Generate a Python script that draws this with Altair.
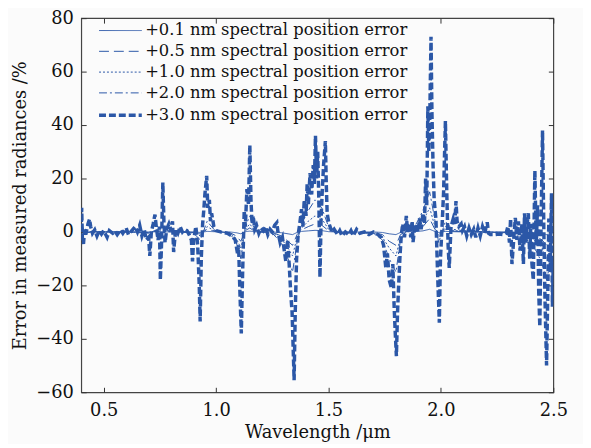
import altair as alt
import pandas as pd

# ---------------- data ----------------
series_names = [
    "+0.1 nm spectral position error",
    "+0.5 nm spectral position error",
    "+1.0 nm spectral position error",
    "+2.0 nm spectral position error",
    "+3.0 nm spectral position error",
]

# shared wavelength grid for the four smaller-error curves (µm)
grid_wl = [0.40, 0.42, 0.45, 0.50, 0.60, 0.70, 0.74, 0.76, 0.78, 0.85,
           0.90, 0.93, 0.96, 0.99, 1.02, 1.06, 1.09, 1.11, 1.13, 1.15,
           1.17, 1.20, 1.25, 1.29, 1.32, 1.34, 1.36, 1.38, 1.41, 1.44,
           1.47, 1.50, 1.53, 1.60, 1.70, 1.74, 1.77, 1.80, 1.82, 1.85,
           1.89, 1.92, 1.95, 1.97, 1.99, 2.02, 2.05, 2.10, 2.20, 2.30,
           2.36, 2.40, 2.43, 2.45, 2.47, 2.49, 2.50]

err_01 = [0.2, -0.1, 0, 0, 0, 0, 0.1, -0.1, 0, 0,
          0, -0.2, 0.2, 0.1, 0, 0, -0.3, -0.7, 0.1, 0.3,
          0.1, 0, 0, -0.3, -0.7, -1, -0.2, 0.2, 0.4, 0.6,
          0.5, 0.1, 0, 0, 0, -0.2, -0.7, -1, -0.2, 0.1,
          0.2, 0.4, 1, 0.3, -0.2, 0.2, 0.1, 0, 0, 0,
          -0.1, -0.2, -0.4, -0.6, -1, -0.6, -0.3]

err_05 = [0.8, -0.3, 0.1, 0, 0, -0.2, 0.3, -0.3, 0.1, 0,
          -0.2, -0.8, 1, 0.3, 0, -0.2, -1.5, -3.5, 0.5, 1.5,
          0.3, 0, -0.2, -1.5, -3.5, -5, -1, 0.8, 2, 3,
          2.5, 0.5, 0, -0.2, -0.2, -1, -3.5, -5, -1, 0.3,
          0.8, 2, 5, 1.5, -1, 1, 0.3, 0.1, 0, -0.2,
          -0.5, -1, -2, -3, -5, -3, -1.5]

err_10 = [1.5, -0.5, 0.3, 0, 0, -0.3, 0.5, -0.5, 0.3, 0,
          -0.3, -1.5, 2, 0.5, 0, -0.3, -2.5, -6, 1, 3,
          0.5, 0, -0.3, -2.5, -6, -9, -2, 1.5, 4, 6,
          5, 1, 0, -0.3, -0.3, -2, -6, -9, -2, 0.5,
          1.5, 4, 9, 3, -2, 2, 0.5, 0.3, 0, -0.3,
          -1, -2, -4, -6, -10, -6, -3]

err_20 = [3, -1, 0.5, 0, 0, -0.5, 1, -1, 0.5, 0,
          -0.5, -3, 4, 1, 0, -0.5, -4, -10, 2, 6,
          1, 0, -0.5, -4, -10, -15, -4, 3, 8, 12,
          9, 2, 0, -0.5, -0.5, -3, -10, -15, -3, 1,
          3, 8, 15, 6, -4, 4, 1, 0.5, 0, -0.5,
          -2, -4, -8, -12, -18, -10, -5]

# +3.0 nm curve, its own wavelength samples
wl_30 = [0.400, 0.402, 0.405, 0.410, 0.415, 0.420, 0.430, 0.437, 0.442, 0.450,
         0.460, 0.470, 0.480, 0.490, 0.500, 0.515, 0.525, 0.540, 0.550, 0.560,
         0.575, 0.585, 0.600, 0.610, 0.625, 0.640, 0.650, 0.660, 0.670, 0.680,
         0.690, 0.700, 0.705, 0.712, 0.720, 0.728, 0.735, 0.742, 0.748, 0.752,
         0.757, 0.763, 0.768, 0.773, 0.780, 0.790, 0.800, 0.806, 0.811, 0.820,
         0.830, 0.840, 0.850, 0.860, 0.870, 0.880, 0.890, 0.895, 0.900, 0.910,
         0.918, 0.925, 0.929, 0.934, 0.940, 0.945, 0.950, 0.958, 0.963, 0.970,
         0.975, 0.980, 0.990, 1.000, 1.020, 1.050, 1.070, 1.085, 1.095, 1.100,
         1.105, 1.112, 1.118, 1.125, 1.130, 1.137, 1.144, 1.150, 1.155, 1.160,
         1.165, 1.172, 1.180, 1.190, 1.200, 1.210, 1.220, 1.230, 1.240, 1.250,
         1.260, 1.270, 1.275, 1.285, 1.295, 1.305, 1.310, 1.318, 1.325, 1.332,
         1.338, 1.347, 1.352, 1.358, 1.365, 1.372, 1.380, 1.386, 1.392, 1.400,
         1.405, 1.410, 1.418, 1.425, 1.432, 1.437, 1.442, 1.447, 1.452, 1.457,
         1.462, 1.467, 1.472, 1.478, 1.486, 1.490, 1.494, 1.500, 1.505, 1.515,
         1.525, 1.540, 1.550, 1.560, 1.575, 1.590, 1.600, 1.610, 1.625, 1.640,
         1.660, 1.680, 1.700, 1.720, 1.735, 1.745, 1.755, 1.762, 1.770, 1.780,
         1.786, 1.792, 1.797, 1.802, 1.807, 1.812, 1.818, 1.824, 1.830, 1.838,
         1.846, 1.852, 1.858, 1.866, 1.872, 1.876, 1.884, 1.890, 1.898, 1.905,
         1.912, 1.920, 1.927, 1.932, 1.937, 1.942, 1.946, 1.950, 1.956, 1.960,
         1.965, 1.970, 1.978, 1.985, 1.993, 1.998, 2.005, 2.012, 2.020, 2.026,
         2.032, 2.037, 2.045, 2.055, 2.062, 2.067, 2.072, 2.080, 2.090, 2.096,
         2.105, 2.115, 2.125, 2.135, 2.146, 2.155, 2.165, 2.175, 2.185, 2.195,
         2.206, 2.212, 2.220, 2.240, 2.260, 2.280, 2.290, 2.298, 2.305, 2.310,
         2.316, 2.322, 2.331, 2.338, 2.345, 2.352, 2.360, 2.367, 2.372, 2.378,
         2.385, 2.389, 2.395, 2.400, 2.405, 2.411, 2.418, 2.424, 2.430, 2.435,
         2.440, 2.446, 2.452, 2.458, 2.463, 2.470, 2.476, 2.480, 2.486, 2.492,
         2.496, 2.500]

err_30 = [0, 9, -2, -4.5, 1, -1, 3, 4.8, 2, -0.5,
          0.8, -1.5, 0.5, -0.8, 0.5, -2, 0.5, -0.5, 0.3, -1,
          0.8, -0.5, 1.5, -1, 0.5, 2, 0, 2.5, -1.5, 1,
          -3, -2, -9, 0, 3, 6.5, 1, -3, 2, -18,
          -5, 18.5, 3, -4, 1, 3, 0.5, 4, -7.5, 1,
          -0.5, 2, 0, 1, 0.5, -1, -3, -11, -3, 2,
          -5, -20, -33.5, -10, 3, 8, 14, 21, 9, 12,
          4, 7, 2, 0.5, 0, -0.5, -1.5, -3, -8, -5,
          -20, -38, -15, 8, 2, 16, 10, 32.5, 12, 3,
          6, 1, 2.5, -0.5, 1.5, 0.5, 2, -1, 1, 0,
          2.5, 3.5, 0, -4, -2, -8, -11, -3, -12, -23,
          -30, -55.5, -30, -10, -1, 3, 8.5, 2, 12, 6,
          18, 10, 22, 14, 25, 18, 36, 20, 30, 12,
          -17, 5, 15, 25, 34, 18, 7, 4, 2.5, 0,
          1, -1, 0.5, -1.5, 0, -1, 0.5, -1.5, 1, -0.5,
          0, -1, 0, -1, -2, -5, -13.5, -8, -18, -21,
          -12, -28, -38, -46.5, -30, -20, -9, -1, 3, -2,
          6, 0, 3, -2, 4, -3.8, 2, 3, 0, 5,
          1, 7, 3, 20, 10, 47, 30, 40, 73, 45,
          25, 12, 4.5, -15, -34, -10, 2, 15, 41.5, 15,
          -5, -13.5, 2, 5, 3, 11.5, 4, 2, 3, 0.5,
          2, -1.5, 1.5, -1, 1, -2, 1.5, -1.5, 2, -0.5,
          3.6, -0.5, -1, -1, -0.8, -1, -0.5, 2, -4, 5,
          -12, -5, 5.3, -3, 4, -7, 3, -12, 7, -4,
          4, 7, -10, 3, -12, -18, 23, -5, 10, -22,
          -35.5, 5, 38, 0, -25, -50, -20, 5, -15, 14.5,
          -28, -10]

x_ticks = [0.5, 1.0, 1.5, 2.0, 2.5]
y_ticks = [-60, -40, -20, 0, 20, 40, 60, 80]

# ---------------- table ----------------
frames = []
for name, vals in zip(series_names[:4], [err_01, err_05, err_10, err_20]):
    frames.append(pd.DataFrame({"wl": grid_wl, "err": vals, "series": name,
                                "order": list(range(len(grid_wl)))}))
frames.append(pd.DataFrame({"wl": wl_30, "err": err_30, "series": series_names[4],
                            "order": list(range(len(wl_30)))}))
df = pd.concat(frames, ignore_index=True)

W, H = 477, 378
BLUE = "#2b57a7"
FONT = "DejaVu Serif"
FS = 18

xscale = alt.Scale(domain=[0.4, 2.5], nice=False, zero=False)
yscale = alt.Scale(domain=[-60, 80], nice=False, zero=False)

lines = alt.Chart(df).mark_line(clip=True, strokeCap="butt").encode(
    x=alt.X("wl:Q", scale=xscale,
            axis=alt.Axis(orient="bottom", values=x_ticks, format=".1f", ticks=False,
                          domain=False, grid=False, labelPadding=9, labelFlush=False,
                          title="Wavelength /μm", titlePadding=5)),
    y=alt.Y("err:Q", scale=yscale,
            axis=alt.Axis(orient="left", values=y_ticks, ticks=False, domain=False,
                          grid=False, labelPadding=8, labelFlush=False,
                          title="Error in measured radiances /%", titlePadding=6)),
    color=alt.Color("series:N", sort=series_names,
                    scale=alt.Scale(domain=series_names, range=[BLUE] * 5), title=None),
    strokeDash=alt.StrokeDash("series:N", sort=series_names,
                              scale=alt.Scale(domain=series_names,
                                              range=[[1, 0], [10, 5], [2, 2], [8, 3, 2, 3], [7, 3]]),
                              title=None),
    strokeWidth=alt.StrokeWidth("series:N", sort=series_names,
                                scale=alt.Scale(type="ordinal", domain=series_names,
                                                range=[0.9, 1, 1, 1, 3.5]),
                                title=None),
    order="order:Q",
)

ticks_a = alt.Chart(df).mark_point(opacity=0).encode(
    x=alt.X("wl:Q", scale=xscale,
            axis=alt.Axis(orient="top", offset=-H, values=x_ticks, labels=False,
                          domain=False, grid=False, ticks=True, tickSize=5,
                          tickColor="#333", title=None)),
    y=alt.Y("err:Q", scale=yscale,
            axis=alt.Axis(orient="right", offset=-W, values=y_ticks, labels=False,
                          domain=False, grid=False, ticks=True, tickSize=5,
                          tickColor="#333", title=None)),
)
ticks_b = alt.Chart(df).mark_point(opacity=0).encode(
    x=alt.X("wl:Q", scale=xscale,
            axis=alt.Axis(orient="bottom", offset=-H, values=x_ticks, labels=False,
                          domain=False, grid=False, ticks=True, tickSize=5,
                          tickColor="#333", title=None)),
    y=alt.Y("err:Q", scale=yscale,
            axis=alt.Axis(orient="left", offset=-W, values=y_ticks, labels=False,
                          domain=False, grid=False, ticks=True, tickSize=5,
                          tickColor="#333", title=None)),
)

chart = alt.layer(lines, ticks_a, ticks_b).resolve_axis(
    x="independent", y="independent"
).properties(
    width=W, height=H,
    autosize=alt.AutoSizeParams(type="none"),
    padding={"left": 74, "top": 8, "right": 30, "bottom": 50},
    background="#fbfbfb",
).configure_view(
    stroke="#444", strokeWidth=1.2
).configure_axis(
    labelFont=FONT, labelFontSize=FS, labelColor="#111",
    titleFont=FONT, titleFontSize=FS, titleFontWeight="normal", titleColor="#111",
).configure_legend(
    orient="none", legendX=16, legendY=0,
    labelFont=FONT, labelFontSize=16.5, labelColor="#111", labelLimit=0,
    symbolType="M-1.8,0H1.8", symbolSize=576, symbolOffset=9.6,
    symbolStrokeColor=BLUE, symbolFillColor="transparent",
    rowPadding=0, labelOffset=11, padding=0,
)

chart.save("out.html", embed_options={"renderer": "svg", "actions": False})
